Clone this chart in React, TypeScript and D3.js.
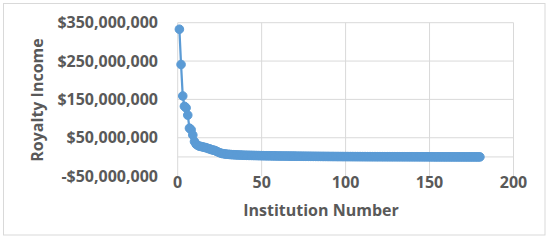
import React from "react";
import * as d3 from "d3";

// Royalty income (in $ millions) by institution number 1..180
const royaltyMillions: number[] = [
  333, 241, 159, 132, 128, 109, 75, 71, 57, 40,
  33, 30, 28, 27, 26, 25, 24, 22, 21, 19,
  18, 17, 15, 13, 11, 9.5, 8.5, 7.8, 7.2, 6.8,
  6.4, 6.1, 5.8, 5.5, 5.3, 5.1, 4.9, 4.7, 4.5, 4.3,
  4.2, 4.1, 4.0, 3.9, 3.8, 3.7, 3.6, 3.5, 3.4, 3.3,
  3.2, 3.1, 3.0, 2.95, 2.9, 2.85, 2.8, 2.7, 2.6, 2.5,
  2.45, 2.4, 2.35, 2.3, 2.25, 2.2, 2.15, 2.1, 2.05, 2.0,
  1.95, 1.9, 1.85, 1.8, 1.75, 1.7, 1.66, 1.62, 1.58, 1.54,
  1.5, 1.46, 1.42, 1.38, 1.34, 1.3, 1.27, 1.24, 1.21, 1.18,
  1.15, 1.12, 1.09, 1.06, 1.03, 1.0, 0.98, 0.96, 0.94, 0.92,
  0.9, 0.88, 0.86, 0.84, 0.82, 0.8, 0.78, 0.76, 0.74, 0.72,
  0.7, 0.68, 0.66, 0.64, 0.62, 0.6, 0.59, 0.58, 0.57, 0.56,
  0.55, 0.54, 0.53, 0.52, 0.51, 0.5, 0.49, 0.48, 0.47, 0.46,
  0.45, 0.44, 0.43, 0.42, 0.41, 0.4, 0.39, 0.38, 0.37, 0.36,
  0.35, 0.34, 0.33, 0.32, 0.31, 0.3, 0.29, 0.28, 0.27, 0.26,
  0.25, 0.24, 0.23, 0.22, 0.21, 0.2, 0.19, 0.18, 0.17, 0.16,
  0.15, 0.14, 0.13, 0.12, 0.11, 0.1, 0.09, 0.08, 0.07, 0.06,
  0.05, 0.045, 0.04, 0.035, 0.03, 0.025, 0.02, 0.015, 0.01, 0.005,
];

const yTicks: number[] = [-50e6, 50e6, 150e6, 250e6, 350e6];
const yTickLabels: string[] = ["-$50,000,000", "$50,000,000", "$150,000,000", "$250,000,000", "$350,000,000"];
const xTicks: number[] = [0, 50, 100, 150, 200];
const xTitle = "Institution Number";
const yTitle = "Royalty Income";

const W = 550;
const H = 240;
const plot = { left: 177.7, right: 513.5, top: 22.7, bottom: 176.1 };
const FONT = "'Open Sans', 'Liberation Sans', sans-serif";
const TEXT = "#595959";
const GRID = "#d9d9d9";
const BLUE = "#5B9BD5";

export default function App() {
  const x = d3.scaleLinear().domain([0, 200]).range([plot.left, plot.right]);
  const y = d3.scaleLinear().domain([-50e6, 350e6]).range([plot.bottom, plot.top]);
  const data = royaltyMillions.map((v, i) => ({ n: i + 1, v: v * 1e6 }));
  const line = d3
    .line<{ n: number; v: number }>()
    .x((d) => x(d.n))
    .y((d) => y(d.v));

  return (
    <svg
      width={W}
      height={H}
      style={{ position: "absolute", left: 0, top: 0, background: "#fff" }}
      fontFamily={FONT}
    >
      <rect x={0} y={0} width={W} height={H} fill="#fff" />
      <rect x={3.5} y={3.5} width={541.5} height={231.5} fill="#fff" stroke={GRID} strokeWidth={1} />
      {/* horizontal gridlines */}
      {yTicks.filter((t) => t > -50e6).map((t) => (
        <line key={"hg" + t} x1={plot.left} x2={plot.right} y1={y(t)} y2={y(t)} stroke={GRID} strokeWidth={1} />
      ))}
      {/* zero axis line */}
      <line x1={plot.left} x2={plot.right} y1={y(0)} y2={y(0)} stroke={GRID} strokeWidth={1} />
      {/* vertical gridlines */}
      {xTicks.map((t) => (
        <line key={"vg" + t} x1={x(t)} x2={x(t)} y1={plot.top} y2={plot.bottom} stroke={GRID} strokeWidth={1} />
      ))}
      {/* y tick labels */}
      {yTicks.map((t, i) => (
        <text
          key={"yl" + t}
          x={158}
          y={y(t)}
          dy="0.35em"
          textAnchor="end"
          fontSize={16}
          fontWeight={700}
          fill={TEXT}
        >
          {yTickLabels[i]}
        </text>
      ))}
      {/* x tick labels */}
      {xTicks.map((t) => (
        <text
          key={"xl" + t}
          x={x(t)}
          y={182}
          dy="0.35em"
          textAnchor="middle"
          fontSize={16}
          fontWeight={700}
          fill={TEXT}
        >
          {t}
        </text>
      ))}
      {/* series */}
      <path d={line(data) || ""} fill="none" stroke={BLUE} strokeWidth={2.25} strokeLinejoin="round" />
      {data.map((d) => (
        <circle key={"p" + d.n} cx={x(d.n)} cy={y(d.v)} r={4.3} fill={BLUE} stroke={BLUE} strokeWidth={1} />
      ))}
      {/* axis titles */}
      <text x={321} y={210} dy="0.35em" textAnchor="middle" fontSize={16} fontWeight={700} fill={TEXT}>
        {xTitle}
      </text>
      <text
        transform={`translate(37,100) rotate(-90)`}
        dy="0.35em"
        textAnchor="middle"
        fontSize={16}
        fontWeight={700}
        fill={TEXT}
      >
        {yTitle}
      </text>
    </svg>
  );
}
